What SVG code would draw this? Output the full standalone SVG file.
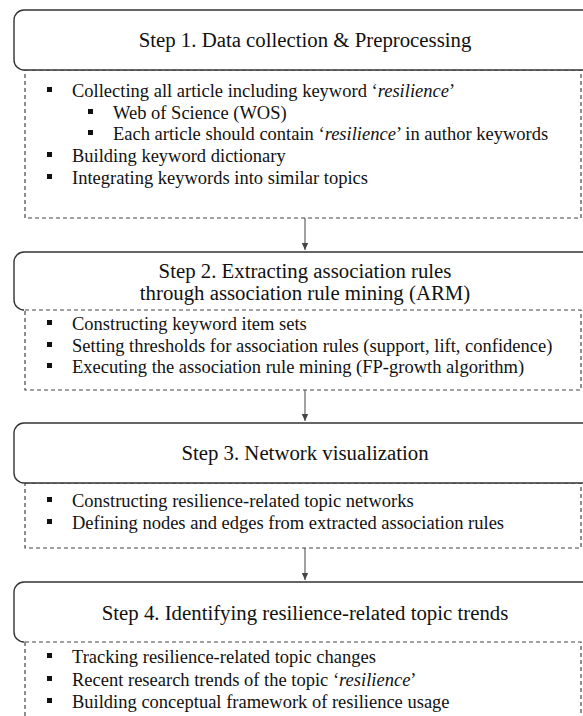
<svg xmlns="http://www.w3.org/2000/svg" width="583" height="716" viewBox="0 0 583 716">
<style>
.hd{fill:#fff;stroke:#333;stroke-width:1.4}
.hdo{fill:none;stroke:#333;stroke-width:1.4}
.dash{fill:none;stroke:#444;stroke-width:1.2;stroke-dasharray:4,3}
.ht{font-family:"Liberation Serif",serif;font-size:20.8px;fill:#111;text-anchor:middle}
.bt{font-family:"Liberation Serif",serif;font-size:18.5px;fill:#111}
.bl{fill:#111}
.cn{stroke:#555;stroke-width:1.1;fill:none}
</style>
<defs>
<marker id="ah" markerWidth="8" markerHeight="8" refX="7" refY="4" orient="auto" markerUnits="userSpaceOnUse">
<path d="M0,0.8 L7,4 L0,7.2 Z" fill="#444"/>
</marker>
</defs>
<rect width="583" height="716" fill="#fff"/>

<g id="connectors">
<line class="cn" x1="305" y1="218" x2="305" y2="250" marker-end="url(#ah)"/>
<line class="cn" x1="305" y1="390" x2="305" y2="421" marker-end="url(#ah)"/>
<line class="cn" x1="305" y1="548" x2="305" y2="580" marker-end="url(#ah)"/>
</g>

<g id="step1">
<rect class="dash" x="25" y="70" width="556" height="148"/>
<path class="hd" d="M600,10 H24 A10,10 0 0 0 14,20 V60 A10,10 0 0 0 24,70 H600 Z"/>
<text class="ht" x="305" y="47">Step 1. Data collection &amp; Preprocessing</text>
<rect class="bl" x="47" y="87" width="5" height="5"/>
<text class="bt" x="72" y="97">Collecting all article including keyword ‘<tspan font-style="italic">resilience</tspan>’</text>
<rect class="bl" x="88" y="109" width="5" height="5"/>
<text class="bt" x="113" y="119">Web of Science (WOS)</text>
<rect class="bl" x="88" y="130" width="5" height="5"/>
<text class="bt" x="113" y="140">Each article should contain ‘<tspan font-style="italic">resilience</tspan>’ in author keywords</text>
<rect class="bl" x="47" y="152" width="5" height="5"/>
<text class="bt" x="72" y="162">Building keyword dictionary</text>
<rect class="bl" x="47" y="174" width="5" height="5"/>
<text class="bt" x="72" y="184">Integrating keywords into similar topics</text>
</g>

<g id="step2">
<path class="hd" d="M600,252 H24 A10,10 0 0 0 14,262 V300 A10,10 0 0 0 24,310 H600" style="stroke:none"/>
<path class="hdo" d="M600,252 H24 A10,10 0 0 0 14,262 V300 A10,10 0 0 0 24,310"/>
<rect class="dash" x="25" y="310" width="556" height="80"/>
<text class="ht" x="305" y="278">Step 2. Extracting association rules</text>
<text class="ht" x="305" y="300">through association rule mining (ARM)</text>
<rect class="bl" x="47" y="320" width="5" height="5"/>
<text class="bt" x="72" y="330">Constructing keyword item sets</text>
<rect class="bl" x="47" y="342" width="5" height="5"/>
<text class="bt" x="72" y="352">Setting thresholds for association rules (support, lift, confidence)</text>
<rect class="bl" x="47" y="363" width="5" height="5"/>
<text class="bt" x="72" y="373">Executing the association rule mining (FP-growth algorithm)</text>
</g>

<g id="step3">
<rect class="dash" x="25" y="483" width="556" height="65"/>
<path class="hd" d="M600,423 H24 A10,10 0 0 0 14,433 V473 A10,10 0 0 0 24,483 H600 Z"/>
<text class="ht" x="305" y="460">Step 3. Network visualization</text>
<rect class="bl" x="47" y="497" width="5" height="5"/>
<text class="bt" x="72" y="507">Constructing resilience-related topic networks</text>
<rect class="bl" x="47" y="519" width="5" height="5"/>
<text class="bt" x="72" y="529">Defining nodes and edges from extracted association rules</text>
</g>

<g id="step4">
<path class="hd" d="M600,582 H24 A10,10 0 0 0 14,592 V632 A10,10 0 0 0 24,642 H600" style="stroke:none"/>
<path class="hdo" d="M600,582 H24 A10,10 0 0 0 14,592 V632 A10,10 0 0 0 24,642"/>
<rect class="dash" x="25" y="642" width="556" height="90"/>
<text class="ht" x="305" y="620">Step 4. Identifying resilience-related topic trends</text>
<rect class="bl" x="47" y="653" width="5" height="5"/>
<text class="bt" x="72" y="663">Tracking resilience-related topic changes</text>
<rect class="bl" x="47" y="676" width="5" height="5"/>
<text class="bt" x="72" y="686">Recent research trends of the topic ‘<tspan font-style="italic">resilience</tspan>’</text>
<rect class="bl" x="47" y="698" width="5" height="5"/>
<text class="bt" x="72" y="708">Building conceptual framework of resilience usage</text>
</g>
</svg>
